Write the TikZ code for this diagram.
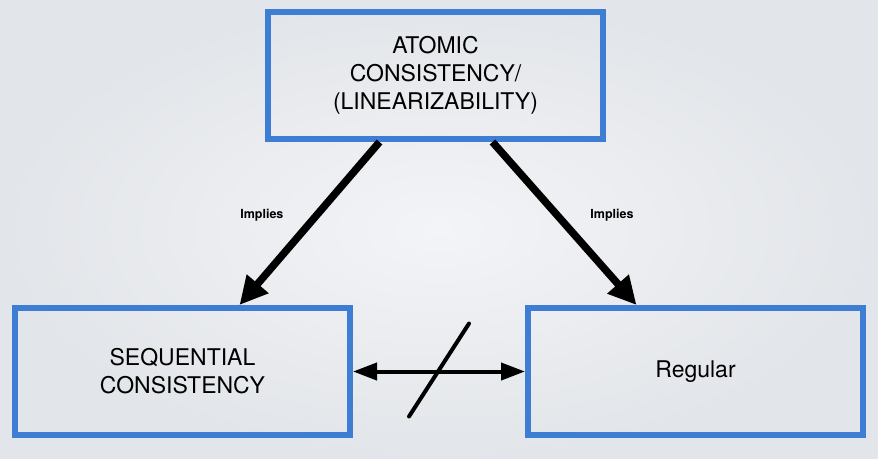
\documentclass[tikz,border=0pt]{standalone}
\usepackage{fontspec}
\setmainfont{TeX Gyre Heros}
\usetikzlibrary{arrows.meta,positioning,calc}
\definecolor{boxblue}{HTML}{3D7DD3}
\definecolor{bginner}{HTML}{F3F4F7}
\definecolor{bgouter}{HTML}{E2E5E9}
\tikzset{
    modelbox/.style={draw=boxblue, line width=6pt, align=center,
        font=\fontsize{23}{28}\selectfont, minimum width=335pt, minimum height=127pt},
    implyarrow/.style={-{Triangle[length=28pt,width=27pt]}, line width=7.5pt},
    relarrow/.style={{Triangle[length=24pt,width=17pt]}-{Triangle[length=24pt,width=17pt]}, line width=4pt},
    implylabel/.style={font=\fontsize{12.5}{14}\selectfont\bfseries}
}

\begin{document}
\begin{tikzpicture}[x=1pt,y=-1pt]
\shade[inner color=bginner, outer color=bgouter] (0,0) rectangle (878,458);
\useasboundingbox (0,0) rectangle (878,458);
\node[modelbox] (atomic) at (435.5,75.5) {ATOMIC\\CONSISTENCY/\\(LINEARIZABILITY)};
\node[modelbox] (seq) at (182.5,371.5) {SEQUENTIAL\\CONSISTENCY};
\node[modelbox] (reg) at (695.5,371.5) {Regular};
% implications
\draw[implyarrow] ($(atomic.south)+(-56,0)$) -- node[implylabel, pos=0.45, left=26pt] {Implies} ($(seq.north)+(57,0)$);
\draw[implyarrow] ($(atomic.south)+(57,0)$) -- node[implylabel, pos=0.45, right=26pt] {Implies} ($(reg.north)+(-59,0)$);
% no relation
\draw[relarrow] (seq.east) -- (reg.west);
\coordinate (mid) at ($(seq.east)!0.5!(reg.west)$);
\draw[line width=4pt, line cap=round] ($(mid)+(-30,45)$) -- ($(mid)+(30,-48)$);
\end{tikzpicture}
\end{document}
